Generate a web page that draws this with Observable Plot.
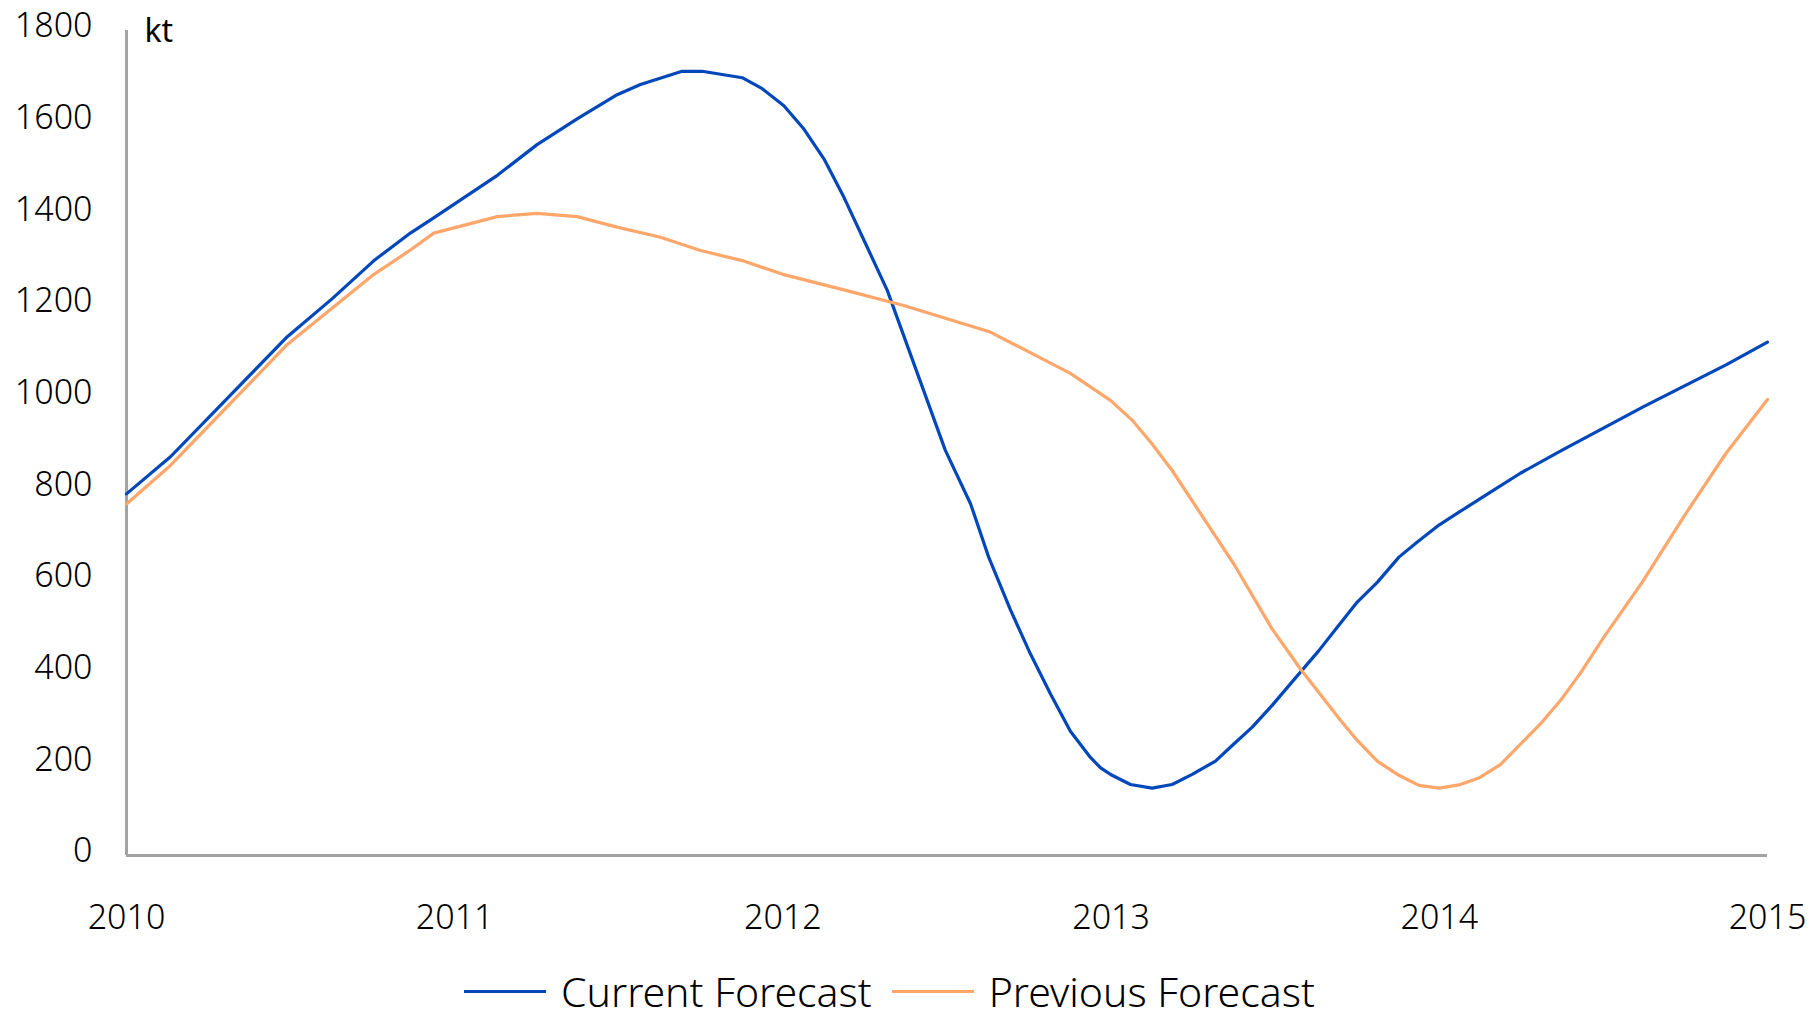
<!DOCTYPE html>
<html>
<head>
<meta charset="utf-8">
<script src="https://cdn.jsdelivr.net/npm/d3@7"></script>
<script src="https://cdn.jsdelivr.net/npm/@observablehq/plot@0.6"></script>
<style>
  html, body { margin: 0; padding: 0; background: #fff; }
  body { width: 1820px; font-family: "Noto Sans", sans-serif; font-weight: 300; }
  #chart svg { display: block; }
  .legend { display: flex; align-items: center; height: 40px; line-height: 1; margin-top: 21px; padding-left: 464px; font-size: 41px; color: #000; }
  .legend .item { display: flex; align-items: center; margin-right: 20px; }
  .legend .swatch { width: 82px; height: 3px; margin-right: 15px; }
  .legend .name { display: inline-block; height: 40px; line-height: 40px; }
</style>
</head>
<body>
<div id="chart"></div>
<div class="legend" id="legend"></div>
<script>
// Forecast series, in kilotonnes, at fractional-year dates
const currentYears = [2010.000, 2010.134, 2010.490, 2010.627, 2010.754, 2010.865, 2010.936, 2011.130, 2011.251, 2011.373,
  2011.495, 2011.566, 2011.693, 2011.754, 2011.876, 2011.937, 2012.003, 2012.064, 2012.125, 2012.186,
  2012.257, 2012.318, 2012.495, 2012.572, 2012.627, 2012.694, 2012.754, 2012.815, 2012.876, 2012.937,
  2012.968, 2013.003, 2013.059, 2013.125, 2013.186, 2013.247, 2013.318, 2013.369, 2013.430, 2013.490,
  2013.547, 2013.633, 2013.689, 2013.750, 2013.811, 2013.877, 2013.933, 2013.999, 2014.060, 2014.156,
  2014.247, 2014.373, 2014.624, 2014.875, 2015.000];
const currentValues = [789, 870, 1132, 1215, 1298, 1358, 1391, 1484, 1551, 1607,
  1660, 1682, 1711, 1711, 1697, 1673, 1636, 1585, 1520, 1436,
  1327, 1233, 884, 767, 651, 535, 440, 353, 271, 214,
  191, 175, 155, 147, 155, 177, 206, 240, 280, 327,
  375, 447, 498, 553, 596, 651, 684, 721, 749, 793,
  834, 884, 980, 1071, 1120];

const previousYears = [2010.000, 2010.134, 2010.490, 2010.754, 2010.865, 2010.936, 2011.130, 2011.251, 2011.373, 2011.495,
  2011.627, 2011.749, 2011.876, 2012.000, 2012.186, 2012.368, 2012.632, 2012.876, 2012.998, 2013.064,
  2013.125, 2013.186, 2013.374, 2013.490, 2013.577, 2013.699, 2013.750, 2013.811, 2013.877, 2013.938,
  2013.999, 2014.060, 2014.120, 2014.187, 2014.308, 2014.369, 2014.430, 2014.501, 2014.618, 2014.750,
  2014.872, 2015.000];
const previousValues = [767, 851, 1115, 1268, 1321, 1358, 1394, 1401, 1394, 1371,
  1349, 1320, 1298, 1268, 1234, 1200, 1142, 1052, 993, 950,
  898, 840, 636, 495, 407, 295, 251, 206, 175, 153,
  147, 154, 169, 199, 287, 338, 398, 476, 596, 745,
  876, 995];

const seriesNames = ["Current Forecast", "Previous Forecast"];
const seriesColors = ["#0047bb", "#ffa66b"];
const yearTicks = [2010, 2011, 2012, 2013, 2014, 2015];
const valueTicks = [0, 200, 400, 600, 800, 1000, 1200, 1400, 1600, 1800];
const unitLabel = "kt";

const current = currentYears.map((x, i) => ({x, y: currentValues[i]}));
const previous = previousYears.map((x, i) => ({x, y: previousValues[i]}));

const axisGrey = "#a3a3a3";

const chart = Plot.plot({
  width: 1820,
  height: 950,
  marginTop: 30,
  marginBottom: 95,
  marginLeft: 126,
  marginRight: 53,
  style: {fontFamily: "'Noto Sans', sans-serif", fontSize: "34px", fontWeight: 300, color: "#000", background: "#fff"},
  x: {type: "linear", domain: [2010, 2015]},
  y: {domain: [0, 1800]},
  marks: [
    Plot.axisY({ticks: valueTicks, tickSize: 0, tickPadding: 34, dy: -4, tickFormat: d => String(d), label: null, fill: "#000"}),
    Plot.axisX({ticks: yearTicks, tickSize: 0, tickPadding: 49, tickFormat: d => String(d), label: null, fill: "#000"}),
    Plot.ruleX([2010], {y1: 0, y2: 1800, stroke: axisGrey, strokeWidth: 3}),
    Plot.ruleY([0], {x1: 2010, x2: 2015, stroke: axisGrey, strokeWidth: 3}),
    Plot.line(current, {x: "x", y: "y", stroke: seriesColors[0], strokeWidth: 3.2, strokeLinejoin: "round"}),
    Plot.line(previous, {x: "x", y: "y", stroke: seriesColors[1], strokeWidth: 3.2, strokeLinejoin: "round"}),
    Plot.text([unitLabel], {frameAnchor: "top-left", textAnchor: "start", lineAnchor: "middle", dx: 18, dy: 1, fontSize: 32, fontWeight: 400, fill: "#000"})
  ]
});
document.getElementById("chart").appendChild(chart);

// Legend below the plot
const legend = document.getElementById("legend");
seriesNames.forEach((name, i) => {
  const item = document.createElement("div");
  item.className = "item";
  const sw = document.createElement("div");
  sw.className = "swatch";
  sw.style.background = seriesColors[i];
  const label = document.createElement("span");
  label.className = "name";
  label.textContent = name;
  item.appendChild(sw);
  item.appendChild(label);
  legend.appendChild(item);
});
</script>
</body>
</html>
